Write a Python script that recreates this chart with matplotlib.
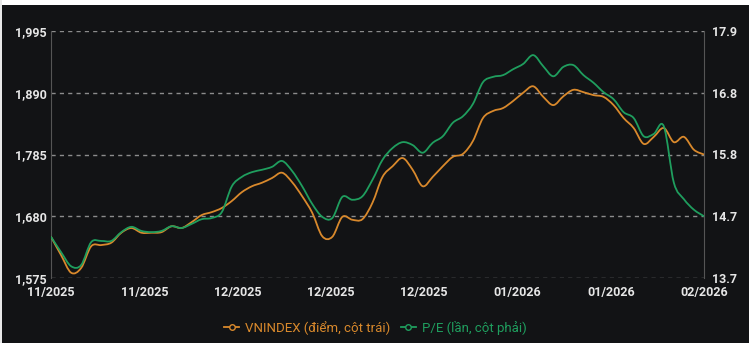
import matplotlib
matplotlib.use("Agg")
import matplotlib.pyplot as plt
from matplotlib.patches import Rectangle, PathPatch
from matplotlib.path import Path
from matplotlib.lines import Line2D

plt.rcParams['font.family'] = ['Roboto', 'DejaVu Sans']

# Daily VNINDEX close (points, left axis) and market P/E (times, right axis)
vnindex = [1645, 1614, 1584, 1592, 1629, 1631, 1635, 1652, 1660, 1652,
           1652, 1653, 1663, 1660, 1670, 1682, 1687, 1694, 1706, 1721,
           1731, 1737, 1745, 1754, 1738, 1714, 1686, 1646, 1645, 1679,
           1674, 1675, 1703, 1747, 1765, 1779, 1759, 1731, 1747, 1765,
           1781, 1786, 1808, 1847, 1859, 1864, 1876, 1890, 1901, 1883,
           1869, 1884, 1895, 1891, 1886, 1883, 1869, 1847, 1830, 1803,
           1815, 1830, 1806, 1815, 1793, 1785]
pe_ratio = [14.40, 14.14, 13.90, 13.92, 14.31, 14.33, 14.33, 14.48, 14.57, 14.50,
            14.48, 14.50, 14.58, 14.55, 14.62, 14.70, 14.72, 14.82, 15.26, 15.42,
            15.50, 15.54, 15.59, 15.69, 15.52, 15.26, 14.96, 14.74, 14.72, 15.08,
            15.03, 15.09, 15.37, 15.71, 15.91, 16.01, 15.96, 15.83, 16.00, 16.11,
            16.34, 16.45, 16.66, 17.03, 17.12, 17.15, 17.25, 17.34, 17.49, 17.30,
            17.13, 17.29, 17.32, 17.15, 17.02, 16.86, 16.74, 16.52, 16.42, 16.11,
            16.15, 16.28, 15.32, 15.04, 14.86, 14.75]
x_labels = ["11/2025", "11/2025", "12/2025", "12/2025", "12/2025",
            "01/2026", "01/2026", "02/2026"]
left_ticks = [1575, 1680, 1785, 1890, 1995]
right_ticks = [13.7, 14.75, 15.8, 16.85, 17.9]
right_labels = ["13.7", "14.7", "15.8", "16.8", "17.9"]
series_names = ["VNINDEX (điểm, cột trái)", "P/E (lần, cột phải)"]

BG = "#121315"
ORANGE = "#d9892c"
GREEN = "#1f9e5e"
TICK = "#e6e6e6"
GRID = "#9a9a9a"


def spline_path(xs, ys):
    """Smooth Bezier path (Catmull-Rom) passing through every data point."""
    pts = list(zip(xs, ys))
    verts = [pts[0]]
    codes = [Path.MOVETO]
    for i in range(len(pts) - 1):
        p0 = pts[i - 1] if i > 0 else pts[i]
        p1 = pts[i]
        p2 = pts[i + 1]
        p3 = pts[i + 2] if i + 2 < len(pts) else pts[i + 1]
        c1 = (p1[0] + (p2[0] - p0[0]) / 6, p1[1] + (p2[1] - p0[1]) / 6)
        c2 = (p2[0] - (p3[0] - p1[0]) / 6, p2[1] - (p3[1] - p1[1]) / 6)
        verts += [c1, c2, p2]
        codes += [Path.CURVE4] * 3
    return Path(verts, codes)


fig = plt.figure(figsize=(7.49, 3.43), dpi=100, facecolor=BG)
W, H = 749, 343
# light strips along the top and left edge
fig.patches.append(Rectangle((0, 1 - 5 / H), 1, 5 / H, transform=fig.transFigure,
                             facecolor="white", edgecolor="none", zorder=-1))
fig.patches.append(Rectangle((0, 0), 2 / W, 1, transform=fig.transFigure,
                             facecolor="#e8e8e8", edgecolor="none", zorder=-1))

left, right, top, bottom = 51, 704, 31, 278
ax = fig.add_axes([left / W, 1 - bottom / H, (right - left) / W, (bottom - top) / H])
ax.set_facecolor(BG)
ax2 = ax.twinx()

n = len(vnindex)
xs = list(range(n))
ax.add_patch(PathPatch(spline_path(xs, vnindex), facecolor="none",
                       edgecolor=ORANGE, lw=1.3, zorder=3, capstyle="round",
                       joinstyle="round"))
ax2.add_patch(PathPatch(spline_path(xs, pe_ratio), facecolor="none",
                        edgecolor=GREEN, lw=1.3, zorder=3, capstyle="round",
                        joinstyle="round"))

ax.set_xlim(0, n - 1)
ax.set_ylim(left_ticks[0], left_ticks[-1])
ax2.set_ylim(right_ticks[0], right_ticks[-1])

ax.set_yticks(left_ticks)
ax.set_yticklabels([f"{v:,}" for v in left_ticks])
ax2.set_yticks(right_ticks)
ax2.set_yticklabels(right_labels)

step = (n - 1) / (len(x_labels) - 1)
ax.set_xticks([i * step for i in range(len(x_labels))])
ax.set_xticklabels(x_labels)

ax.grid(axis="y", color=GRID, lw=1.0, linestyle=(0, (3, 3)), alpha=0.9)
ax.set_axisbelow(True)

for a in (ax, ax2):
    for s in a.spines.values():
        s.set_visible(False)
    a.tick_params(length=0, colors=TICK, labelsize=9)
    for lab in a.get_yticklabels() + a.get_xticklabels():
        lab.set_fontweight("bold")
ax.spines["left"].set_visible(True)
ax.spines["left"].set_color("#555555")
ax2.spines["right"].set_visible(True)
ax2.spines["right"].set_color("#555555")
ax.tick_params(axis="y", pad=3)
ax2.tick_params(axis="y", pad=6)
ax.tick_params(axis="x", pad=6)

handles = [
    Line2D([0], [0], color=ORANGE, lw=1.3, marker="o", markersize=4,
           markerfacecolor=BG, markeredgecolor=ORANGE),
    Line2D([0], [0], color=GREEN, lw=1.3, marker="o", markersize=4,
           markerfacecolor=BG, markeredgecolor=GREEN),
]
leg = fig.legend(handles, series_names, loc="center", bbox_to_anchor=(375 / W, 1 - 328 / H),
                 ncol=2, frameon=False, fontsize=9.5, handlelength=1.2, handletextpad=0.4,
                 columnspacing=0.8)
for txt, c in zip(leg.get_texts(), (ORANGE, GREEN)):
    txt.set_color(c)

fig.savefig("out.png", dpi=100, facecolor=BG)
